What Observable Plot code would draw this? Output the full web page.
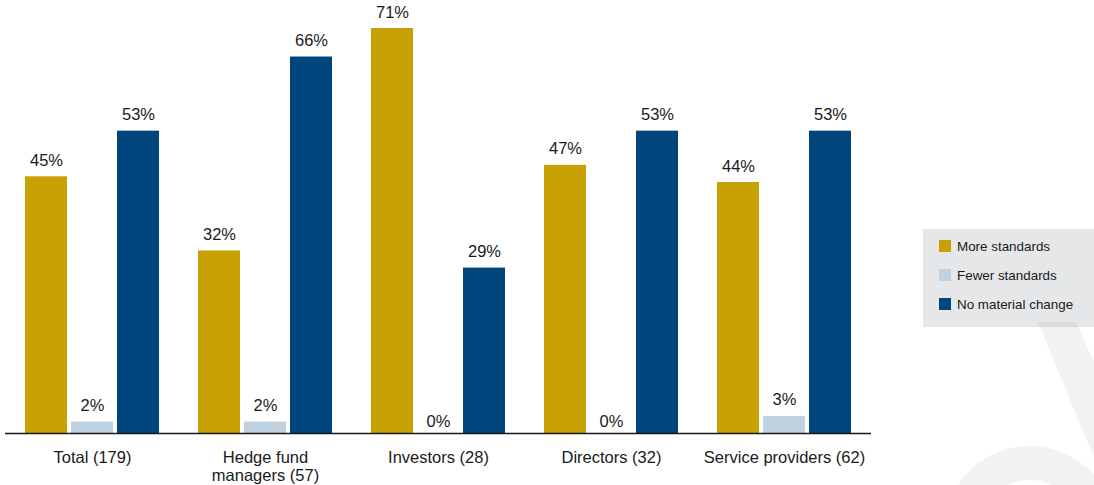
<!DOCTYPE html>
<html>
<head>
<meta charset="utf-8">
<script src="https://cdn.jsdelivr.net/npm/d3@7"></script>
<script src="https://cdn.jsdelivr.net/npm/@observablehq/plot@0.6"></script>
<style>
  html, body { margin: 0; padding: 0; background: #fff; }
  #wrap { position: relative; width: 1094px; height: 485px; overflow: hidden; font-family: "Liberation Sans", Arial, sans-serif; }
  #legend { position: absolute; left: 923px; top: 229px; width: 171px; height: 98px; background: #e6e7e8; }
  .item { position: absolute; left: 16px; font-size: 13.4px; color: #1a1a1a; line-height: 14px; }
  .sw { position: absolute; left: 0; top: 0px; width: 12px; height: 12px; }
  .item span.t { position: absolute; left: 18px; white-space: nowrap; }
  #wm { position: absolute; left: 0; top: 0; pointer-events: none; }
</style>
</head>
<body>
<div id="wrap">
  <div id="chart"></div>
  <div id="legend"></div>
  <svg id="wm" width="1094" height="485"></svg>
</div>
<script>
const groups = ["Total (179)", "Hedge fund\nmanagers (57)", "Investors (28)", "Directors (32)", "Service providers (62)"];
const series = ["More standards", "Fewer standards", "No material change"];
const moreStandards = [45, 32, 71, 47, 44];
const fewerStandards = [2, 2, 0, 0, 3];
const noChange = [53, 66, 29, 53, 53];
const colors = ["#c8a205", "#c0d1df", "#00467c"];

const seriesValues = [moreStandards, fewerStandards, noChange];
const table = [];
series.forEach((s, si) => groups.forEach((g, gi) => table.push({group: g, series: s, si, value: seriesValues[si][gi]})));

const band = 134, bar = 42, step = 46;
const barMarks = series.map((s, si) => Plot.barY(table.filter(d => d.si === si), {
  x: "group", y: "value", fill: colors[si],
  insetLeft: si * step, insetRight: band - bar - si * step
}));
const textMarks = series.flatMap((s, si) => [
  Plot.text(table.filter(d => d.si === si && d.value > 0), {
    x: "group", y: "value", text: d => d.value + "%",
    dx: (si - 1) * step, dy: -11, lineAnchor: "bottom", fill: "#1a1a1a", fontSize: 16.5
  }),
  Plot.text(table.filter(d => d.si === si && d.value === 0), {
    x: "group", y: "value", text: d => d.value + "%",
    dx: (si - 1) * step, dy: -7, lineAnchor: "bottom", fill: "#1a1a1a", fontSize: 16.5
  })
]);

const chart = Plot.plot({
  width: 1094, height: 485,
  marginLeft: 5, marginRight: 223, marginTop: 28, marginBottom: 52,
  style: {fontFamily: "'Liberation Sans', Arial, sans-serif", fontSize: "16.5px", color: "#1a1a1a", background: "transparent"},
  x: {domain: groups, range: [25, 851], paddingInner: 39 / 173, paddingOuter: 0, label: null},
  y: {domain: [0, 71], axis: null},
  marks: [
    ...barMarks,
    Plot.ruleY([0], {stroke: "#1a1a1a", strokeWidth: 1.5}),
    ...textMarks,
    Plot.axisX({tickSize: 0, tickPadding: 17, fontSize: 16.5, lineHeight: 1.09, label: null})
  ]
});
document.getElementById("chart").appendChild(chart);

const legend = document.getElementById("legend");
series.forEach((s, i) => {
  const div = document.createElement("div");
  div.className = "item";
  div.style.top = (11 + i * 29) + "px";
  div.innerHTML = `<div class="sw" style="background:${colors[i]}"></div><span class="t">${s}</span>`;
  legend.appendChild(div);
});

// faint watermark
const wm = d3.select("#wm");
wm.append("path")
  .attr("d", "M1038,322 L1076,322 L1094,362 L1094,458 Z")
  .attr("fill", "#000").attr("fill-opacity", 0.05);
const arc = d3.arc().innerRadius(52).outerRadius(86).startAngle(-Math.PI / 2).endAngle(Math.PI / 2);
wm.append("path").attr("d", arc()).attr("transform", "translate(1030,532)")
  .attr("fill", "#000").attr("fill-opacity", 0.05);
</script>
</body>
</html>
